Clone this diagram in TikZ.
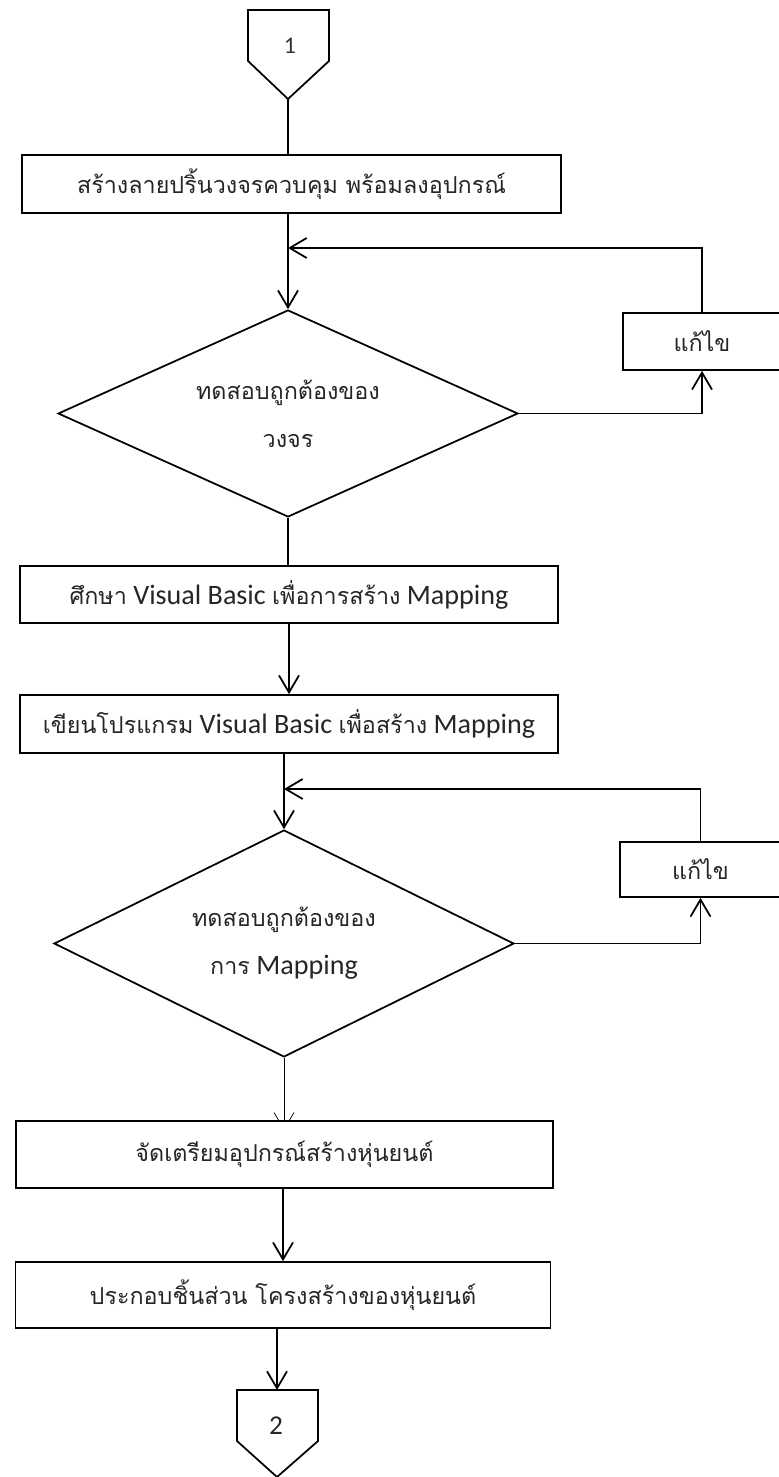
\documentclass[tikz,border=0pt]{standalone}
\usepackage{fontspec}
\setmainfont{Carlito}
\newfontfamily\thaifont[Script=Thai, Scale=0.83]{Loma}
\usepackage{tikz}
\usetikzlibrary{arrows.meta, positioning, shapes.geometric, backgrounds}
\newcommand{\thaitext}[1]{{\thaifont #1}}

\begin{document}
\begin{tikzpicture}[x=0.02cm, y=-0.02cm, line width=1pt,
    box/.style={draw, fill=white, inner sep=0pt, text=black!85, font=\fontsize{16}{27}\selectfont},
    test/.style={diamond, aspect=2.2, draw, fill=white, inner sep=0pt, align=center, text=black!85, font=\fontsize{16}{27.5}\selectfont},
    arr/.style={-{Straight Barb[length=0.34cm, width=0.4cm]}}]
  \useasboundingbox (0,0) rectangle (778,1477);

  % connector 1
  \draw (248,10) -- (329,10) -- (329,61) -- (288,99) -- (248,61) -- cycle;
  \node[text=black!80, font=\fontsize{13.5}{16}\selectfont] (c1) at (290,46) {1};
  \coordinate (c1tip) at (288,99);

  \node[box, minimum width=10.78cm, minimum height=1.16cm] (b1) at (291.5,184) {\thaitext{สร้างลายปริ้นวงจรควบคุม พร้อมลงอุปกรณ์}};
  \node[test, minimum width=9.2cm, minimum height=4.14cm] (d1) at (288,413.5) {\thaitext{ทดสอบถูกต้องของ}\\\thaitext{วงจร}};
  \node[box, minimum width=3.16cm, minimum height=1.14cm] (e1) at (702,341.5) {\thaitext{แก้ไข}};
  \node[box, minimum width=10.76cm, minimum height=1.14cm] (b2) at (289,594.5) {\thaitext{ศึกษา} Visual Basic \thaitext{เพื่อการสร้าง} Mapping};
  \node[box, minimum width=10.76cm, minimum height=1.16cm] (b3) at (289,724) {\thaitext{เขียนโปรแกรม} Visual Basic \thaitext{เพื่อสร้าง} Mapping};
  \node[test, minimum width=9.2cm, minimum height=4.54cm] (d2) at (284,943.5) {\thaitext{ทดสอบถูกต้องของ}\\\thaitext{การ} Mapping};
  \node[box, minimum width=3.22cm, minimum height=1.10cm] (e2) at (700.5,869.5) {\thaitext{แก้ไข}};
  \node[box, minimum width=10.74cm, minimum height=1.34cm] (b4) at (284.5,1154.5) {\thaitext{จัดเตรียมอุปกรณ์สร้างหุ่นยนต์}};
  \node[box, minimum width=10.70cm, minimum height=1.32cm] (b5) at (283,1295) {\thaitext{ประกอบชิ้นส่วน โครงสร้างของหุ่นยนต์}};

  % connector 2
  \draw (237,1390) -- (318,1390) -- (318,1441) -- (277,1477) -- (237,1441) -- cycle;
  \node[text=black!85, font=\fontsize{15.5}{18}\selectfont] (c2) at (276,1426) {2};
  \coordinate (c2top) at (277,1390);

  % main flow
  \draw (c1tip) -- (c1tip |- b1.north);
  \draw[arr] (d1.north |- b1.south) -- (d1.north);
  \draw (d1.south) -- (d1.south |- b2.north);
  \draw[arr] (b3.north |- b2.south) -- (b3.north);
  \draw[arr] (d2.north |- b3.south) -- (d2.north);
  \begin{scope}[on background layer]
    \draw[arr, shorten >=-0.2cm] (d2.south) -- (d2.south |- b4.north);
  \end{scope}
  \draw[arr] (b5.north |- b4.south) -- (b5.north);
  \draw[arr] (c2top |- b5.south) -- (c2top);

  % loops back
  \coordinate (f1) at (702,248);
  \draw[arr] (d1.east) -- (d1.east -| e1.south) -- (e1.south);
  \draw[arr] (e1.north) -- (f1) -- (f1 -| d1.north);
  \coordinate (f2) at (700.5,789);
  \draw[arr] (d2.east) -- (d2.east -| e2.south) -- (e2.south);
  \draw[arr] (e2.north) -- (f2) -- (f2 -| d2.north);
\end{tikzpicture}
\end{document}
